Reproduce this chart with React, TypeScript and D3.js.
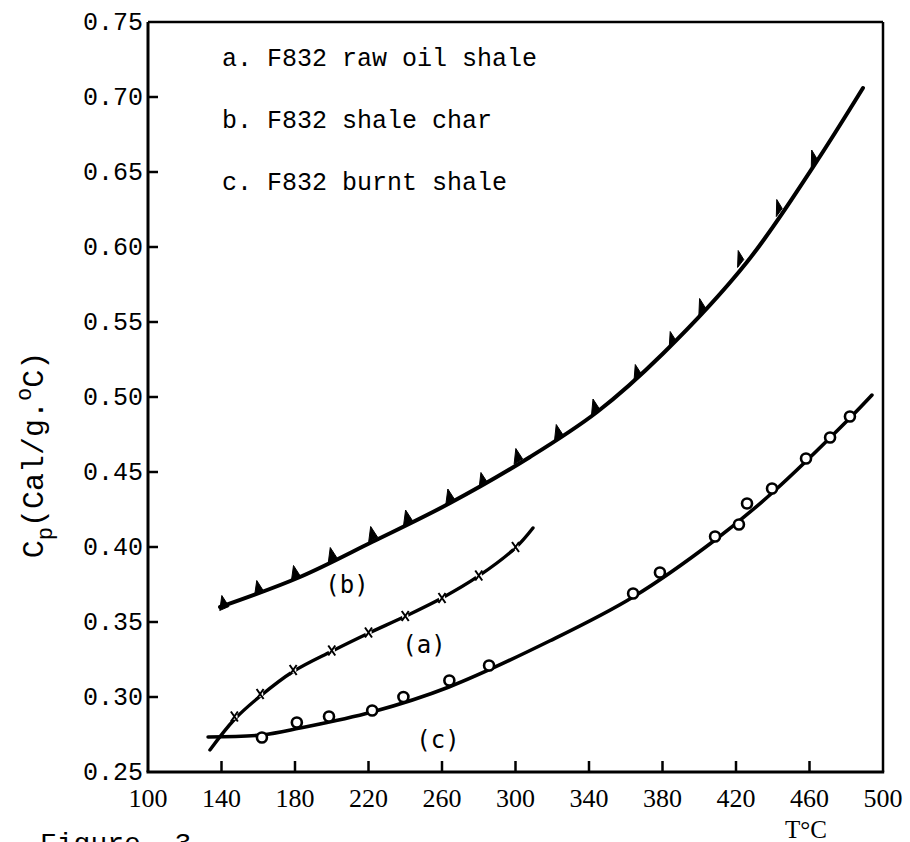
import React from "react";
import * as d3 from "d3";

// ---------- data ----------
const xTicks = [100, 140, 180, 220, 260, 300, 340, 380, 420, 460, 500];
const yTicks = [0.25, 0.3, 0.35, 0.4, 0.45, 0.5, 0.55, 0.6, 0.65, 0.7, 0.75];
const legendLabels = ["a. F832 raw oil shale", "b. F832 shale char", "c. F832 burnt shale"];

// (a) raw oil shale, x markers
const rawT = [147, 161, 179, 200, 220, 240, 260, 280, 300];
const rawCp = [0.287, 0.302, 0.318, 0.331, 0.343, 0.354, 0.366, 0.381, 0.4];
const rawCurveT = [133.7, 147, 161, 179, 200, 220, 240, 260, 280, 300, 309.5];
const rawCurveCp = [0.2647, 0.285, 0.3005, 0.317, 0.3305, 0.3425, 0.3538, 0.366, 0.3807, 0.3995, 0.4127];

// (b) shale char, triangles
const charT = [141, 160, 180, 200, 222, 241, 264, 282, 301, 323, 343, 366, 385, 401, 422, 443, 462];
const charCp = [0.363, 0.373, 0.383, 0.395, 0.409, 0.42, 0.434, 0.445, 0.461, 0.477, 0.494, 0.517, 0.539, 0.561, 0.593, 0.627, 0.66];
const charCurveT = [139.2, 182.7, 221.9, 264.4, 307.9, 344.4, 380.3, 426, 461.9, 489.1];
const charCurveCp = [0.36, 0.38, 0.4033, 0.4293, 0.46, 0.49, 0.529, 0.59, 0.6533, 0.706];

// (c) burnt shale, circles
const burntT = [162, 181, 198.5, 222, 239, 264, 285.6, 364, 378.6, 408.6, 421.6, 426, 439.6, 458.1, 471.2, 482];
const burntCp = [0.273, 0.283, 0.287, 0.291, 0.3, 0.311, 0.321, 0.369, 0.383, 0.407, 0.415, 0.429, 0.439, 0.459, 0.473, 0.487];
const burntCurveT = [132.7, 162, 182.7, 221.9, 263.8, 318.8, 364, 408.6, 439.6, 482, 494];
const burntCurveCp = [0.2733, 0.2747, 0.2793, 0.29, 0.3067, 0.3375, 0.3667, 0.4047, 0.436, 0.486, 0.5013];

const curveLabels = ["(a)", "(b)", "(c)"];
const curveLabelT = [250.2, 208.3, 257.8];
const curveLabelCp = [0.3347, 0.3747, 0.2713];

// ---------- chart ----------
const W = 910;
const H = 842;
const x = d3.scaleLinear().domain([100, 500]).range([148, 883]);
const y = d3.scaleLinear().domain([0.25, 0.75]).range([772, 22]);

const mono = "'Liberation Mono', 'DejaVu Sans Mono', monospace";
const serif = "'Liberation Serif', 'DejaVu Serif', serif";
const sansMono = "'DejaVu Sans Mono', monospace";

function zip(ts: number[], cs: number[]): [number, number][] {
  return ts.map((t, i) => [t, cs[i]]);
}

const lineGen = d3
  .line<[number, number]>()
  .x((d) => x(d[0]))
  .y((d) => y(d[1]))
  .curve(d3.curveCatmullRom.alpha(0.5));

function trianglePath(ts: number[], cs: number[], i: number): string {
  const px = ts.map((t) => x(t));
  const py = cs.map((c) => y(c));
  const i0 = Math.max(0, i - 1);
  const i1 = Math.min(ts.length - 1, i + 1);
  const th = Math.atan2(py[i1] - py[i0], px[i1] - px[i0]);
  const tx = Math.cos(th), ty = Math.sin(th);
  const hw = 5;
  const bx = px[i] + 1, by = py[i] + 6;
  const p1 = [bx - tx * hw, by - ty * hw];
  const p2 = [bx + tx * hw, by + ty * hw];
  const p3 = [px[i] - 1.5, py[i] - 7];
  return `M${p1[0]},${p1[1]}L${p2[0]},${p2[1]}L${p3[0]},${p3[1]}Z`;
}

export default function App() {
  const legendY = [66, 128, 190];
  return (
    <svg
      width={W}
      height={H}
      viewBox={`0 0 ${W} ${H}`}
      style={{ position: "absolute", left: 0, top: 0, background: "#fff" }}
    >
      <rect x={0} y={0} width={W} height={H} fill="#fff" />
      {/* frame */}
      <line x1={x(100)} y1={y(0.75)} x2={x(500)} y2={y(0.75)} stroke="#000" strokeWidth={2.5} />
      <line x1={x(500)} y1={y(0.75)} x2={x(500)} y2={y(0.25)} stroke="#000" strokeWidth={2.5} />
      <line x1={x(100)} y1={y(0.75)} x2={x(100)} y2={y(0.25)} stroke="#000" strokeWidth={3} />
      <line x1={x(100) - 1.5} y1={y(0.25)} x2={x(500) + 1.2} y2={y(0.25)} stroke="#000" strokeWidth={3} />

      {/* y ticks */}
      {yTicks.map((v) => (
        <g key={"y" + v}>
          {v > 0.25 && v < 0.75 && (
            <line x1={x(100)} x2={x(100) + 10} y1={y(v)} y2={y(v)} stroke="#000" strokeWidth={2.5} />
          )}
          <text
            x={143}
            y={y(v) + 8}
            textAnchor="end"
            fontFamily={mono}
            fontSize={25}
            fill="#000"
          >
            {v.toFixed(2)}
          </text>
        </g>
      ))}

      {/* x ticks */}
      {xTicks.map((v) => (
        <g key={"x" + v}>
          {v > 100 && v < 500 && (
            <line x1={x(v)} x2={x(v)} y1={y(0.25)} y2={y(0.25) - 11} stroke="#000" strokeWidth={2.5} />
          )}
          <text
            x={x(v)}
            y={807}
            textAnchor="middle"
            fontFamily={serif}
            fontSize={26}
            fill="#000"
          >
            {v}
          </text>
        </g>
      ))}

      {/* axis titles */}
      <text
        transform={`translate(43, 455) rotate(-90)`}
        textAnchor="middle"
        fontFamily={mono}
        fontSize={30}
        fill="#000"
      >
        C<tspan fontSize={22} dy={9}>p</tspan>
        <tspan dy={-9}>(Cal/g.</tspan>
        <tspan fontSize={22} dy={-12}>o</tspan>
        <tspan dy={12}>C)</tspan>
      </text>
      <text x={785} y={838} fontFamily={serif} fontSize={25} fill="#000">
        T°C
      </text>
      <text x={40} y={852} fontFamily={mono} fontSize={28} fill="#000" style={{ whiteSpace: "pre" }}>
        {"Figure  3"}
      </text>

      {/* legend */}
      {legendLabels.map((l, i) => (
        <text key={l} x={222} y={legendY[i]} fontFamily={mono} fontSize={25} fill="#000">
          {l}
        </text>
      ))}

      {/* curves */}
      <path d={lineGen(zip(charCurveT, charCurveCp)) || ""} fill="none" stroke="#000" strokeWidth={4} strokeLinecap="round" />
      <path d={lineGen(zip(burntCurveT, burntCurveCp)) || ""} fill="none" stroke="#000" strokeWidth={3.6} strokeLinecap="round" />
      <path d={lineGen(zip(rawCurveT, rawCurveCp)) || ""} fill="none" stroke="#000" strokeWidth={3.4} strokeLinecap="round" />

      {/* (a) x markers */}
      {rawT.map((t, i) => {
        const cx = x(t), cy = y(rawCp[i]);
        return (
          <g key={"a" + i}>
            <circle cx={cx} cy={cy} r={3.2} fill="#fff" />
            <path
              d={`M${cx - 3.5},${cy - 5}L${cx + 3.5},${cy + 5}M${cx + 3.5},${cy - 5}L${cx - 3.5},${cy + 5}`}
              stroke="#000"
              strokeWidth={2}
            />
          </g>
        );
      })}

      {/* (b) triangle markers */}
      {charT.map((t, i) => (
        <path key={"b" + i} d={trianglePath(charT, charCp, i)} fill="#000" stroke="#000" strokeWidth={1} strokeLinejoin="round" />
      ))}

      {/* (c) circle markers */}
      {burntT.map((t, i) => (
        <circle key={"c" + i} cx={x(t)} cy={y(burntCp[i])} r={5} fill="#fff" stroke="#000" strokeWidth={2.6} />
      ))}

      {/* curve labels */}
      {curveLabels.map((l, i) => (
        <text
          key={l}
          x={x(curveLabelT[i])}
          y={y(curveLabelCp[i]) + 8}
          textAnchor="middle"
          fontFamily={sansMono}
          fontSize={24}
          fill="#000"
        >
          {l}
        </text>
      ))}
    </svg>
  );
}
